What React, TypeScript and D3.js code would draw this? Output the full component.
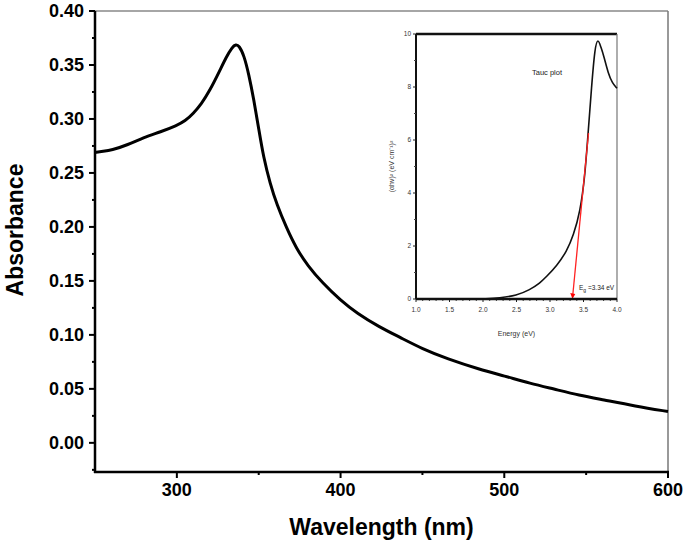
import React from "react";
import * as d3 from "d3";

const wavelength = [250, 255, 260, 270, 280, 290, 300, 305, 310, 315, 320, 326, 330, 334, 336, 338, 341, 344, 347, 350, 353, 357, 361, 367, 373, 380, 389, 400, 410, 424, 436, 450, 465, 485, 500, 516, 530, 546, 560, 580, 600];
const absorbance = [0.269, 0.270, 0.271, 0.276, 0.283, 0.288, 0.294, 0.298, 0.305, 0.314, 0.326, 0.344, 0.357, 0.367, 0.369, 0.368, 0.359, 0.341, 0.318, 0.291, 0.264, 0.240, 0.221, 0.199, 0.180, 0.164, 0.148, 0.132, 0.120, 0.107, 0.098, 0.087, 0.078, 0.068, 0.062, 0.055, 0.050, 0.044, 0.040, 0.034, 0.029];

const energy = [2.0, 2.25, 2.5, 2.7, 2.85, 2.95, 3.1, 3.25, 3.35, 3.45, 3.52, 3.57, 3.62, 3.67, 3.715, 3.76, 3.8, 3.87, 3.93, 4.0];
const tauc = [0.0, 0.04, 0.13, 0.35, 0.6, 0.85, 1.25, 1.8, 2.4, 3.3, 4.6, 6.3, 8.0, 9.5, 9.85, 9.5, 9.2, 8.5, 8.15, 7.95];
const fitEnergy = [3.34, 3.575];
const fitValue = [0.0, 6.26];

const xMajor = [300, 400, 500, 600];
const xMinor = [350, 450, 550];
const yMajor = [0, 0.05, 0.1, 0.15, 0.2, 0.25, 0.3, 0.35, 0.4];
const yMinor = [-0.025, 0.025, 0.075, 0.125, 0.175, 0.225, 0.275, 0.325, 0.375];

const ixMajor = [1.0, 1.5, 2.0, 2.5, 3.0, 3.5, 4.0];
const iyMajor = [0, 2, 4, 6, 8, 10];
const iyMinor = [1, 3, 5, 7, 9];

export default function App() {
  const L = 95, R = 668, T = 11, B = 472;
  const x = d3.scaleLinear().domain([250, 600]).range([L, R]);
  const y = d3.scaleLinear().domain([-0.027, 0.4]).range([B, T]);

  const iL = 416, iR = 617, iT = 34, iB = 299;
  const ix = d3.scaleLinear().domain([1.0, 4.0]).range([iL, iR]);
  const iy = d3.scaleLinear().domain([0, 10]).range([iB, iT]);
  const ixMinor = d3.range(10, 41).map((v) => v / 10).filter((v) => Math.abs(v * 2 - Math.round(v * 2)) > 1e-6);

  const line = d3.line<number>()
    .x((_, i) => x(wavelength[i]))
    .y((d) => y(d))
    .curve(d3.curveBasis);
  const iline = d3.line<number>()
    .x((_, i) => ix(energy[i]))
    .y((d) => iy(d))
    .curve(d3.curveBasis);

  const font = "'Liberation Sans', Arial, sans-serif";

  return (
    <svg width={685} height={548} style={{ position: "absolute", left: 0, top: 0, background: "#fff" }} fontFamily={font}>
      <rect x={0} y={0} width={685} height={548} fill="#fff" />
      {/* frame */}
      <line x1={L} x2={R} y1={T} y2={T} stroke="#888" strokeWidth={1.5} />
      <line x1={R} x2={R} y1={T} y2={B} stroke="#777" strokeWidth={1.5} />
      <line x1={L} x2={L} y1={T} y2={B + 1} stroke="#000" strokeWidth={2.5} />
      <line x1={L - 1} x2={R + 1} y1={B} y2={B} stroke="#000" strokeWidth={2.5} />
      {/* y ticks */}
      {yMajor.map((v) => (
        <g key={"ym" + v}>
          <line x1={L - 6} x2={L} y1={y(v)} y2={y(v)} stroke="#000" strokeWidth={2} />
          <text x={L - 11} y={y(v)} dy="0.36em" textAnchor="end" fontSize={18} fontWeight="bold">{v.toFixed(2)}</text>
        </g>
      ))}
      {yMinor.map((v) => (
        <line key={"yn" + v} x1={L - 3} x2={L} y1={y(v)} y2={y(v)} stroke="#000" strokeWidth={2} />
      ))}
      {/* x ticks */}
      {xMajor.map((v) => (
        <g key={"xm" + v}>
          <line x1={x(v)} x2={x(v)} y1={B} y2={B + 6} stroke="#000" strokeWidth={2} />
          <text x={x(v)} y={B + 24} textAnchor="middle" fontSize={18} fontWeight="bold">{v}</text>
        </g>
      ))}
      {xMinor.map((v) => (
        <line key={"xn" + v} x1={x(v)} x2={x(v)} y1={B} y2={B + 3} stroke="#000" strokeWidth={2} />
      ))}
      <text x={(L + R) / 2} y={535} textAnchor="middle" fontSize={23} fontWeight="bold">Wavelength (nm)</text>
      <text transform={`translate(23, ${230}) rotate(-90)`} textAnchor="middle" fontSize={23} fontWeight="bold">Absorbance</text>
      {/* main curve */}
      <path d={line(absorbance) || ""} fill="none" stroke="#000" strokeWidth={3} strokeLinejoin="round" />

      {/* inset */}
      <g>
        <line x1={iL} x2={iR} y1={iT} y2={iT} stroke="#111" strokeWidth={2.5} />
        <line x1={iR} x2={iR} y1={iT} y2={iB} stroke="#777" strokeWidth={1.2} />
        <line x1={iL} x2={iL} y1={iT} y2={iB} stroke="#111" strokeWidth={2} />
        {iyMajor.map((v) => (
          <g key={"iym" + v}>
            <line x1={iL - 3} x2={iL} y1={iy(v)} y2={iy(v)} stroke="#222" strokeWidth={1} />
            <text x={iL - 5} y={iy(v)} dy="0.35em" textAnchor="end" fontSize={6.5} fill="#333">{v}</text>
          </g>
        ))}
        {iyMinor.map((v) => (
          <line key={"iyn" + v} x1={iL - 2} x2={iL} y1={iy(v)} y2={iy(v)} stroke="#444" strokeWidth={1} />
        ))}
        {ixMajor.map((v) => (
          <g key={"ixm" + v}>
            <line x1={ix(v)} x2={ix(v)} y1={iB} y2={iB + 3} stroke="#222" strokeWidth={1} />
            <text x={ix(v)} y={iB + 13} textAnchor="middle" fontSize={6.5} fill="#333">{v.toFixed(1)}</text>
          </g>
        ))}
        {ixMinor.map((v) => (
          <line key={"ixn" + v} x1={ix(v)} x2={ix(v)} y1={iB} y2={iB + 2} stroke="#444" strokeWidth={1} />
        ))}
        <text x={(iL + iR) / 2} y={iB + 37} textAnchor="middle" fontSize={7} fill="#333">Energy (eV)</text>
        <text transform={`translate(394, ${(iT + iB) / 2}) rotate(-90)`} textAnchor="middle" fontSize={7} fill="#333">(αhν)² (eV cm⁻¹)²</text>
        <text x={532} y={75} fontSize={7.5} fill="#222">Tauc plot</text>
        <text x={579} y={290} fontSize={6.5} fill="#222">E<tspan fontSize={5} dy={2}>g</tspan><tspan dy={-2}> =3.34 eV</tspan></text>
        <path d={iline(tauc) || ""} fill="none" stroke="#111" strokeWidth={1.6} />
        <line x1={ix(fitEnergy[0])} y1={iy(fitValue[0]) - 4} x2={ix(fitEnergy[1])} y2={iy(fitValue[1])} stroke="#f22" strokeWidth={1.3} />
        <path d={`M${ix(fitEnergy[0]) - 2.5},${iy(0) - 6} L${ix(fitEnergy[0]) + 2.5},${iy(0) - 5} L${ix(fitEnergy[0]) - 0.3},${iy(0)} Z`} fill="#f00" />
        <line x1={iL} x2={iR} y1={iB} y2={iB} stroke="#111" strokeWidth={2.5} />
      </g>
    </svg>
  );
}
